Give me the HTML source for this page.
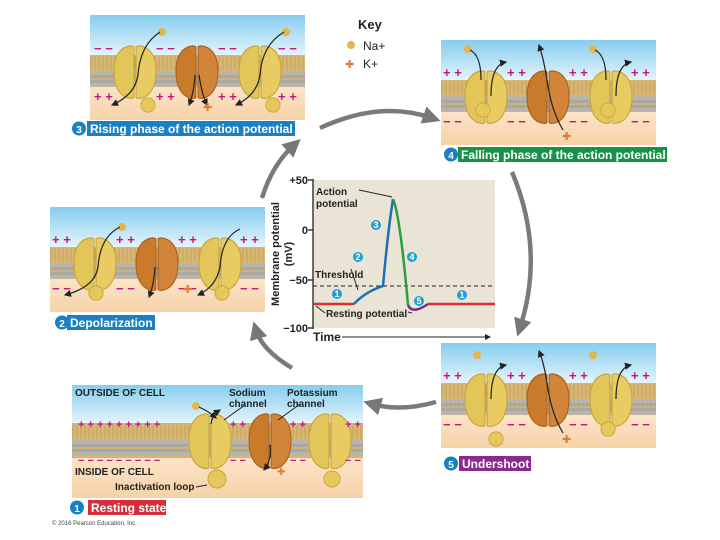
<!DOCTYPE html>
<html><head><meta charset="utf-8"><style>
html,body{margin:0;padding:0;background:#fff;}
svg{display:block;font-family:"Liberation Sans",Arial,sans-serif;}
</style></head><body>
<svg width="720" height="540" viewBox="0 0 720 540" xmlns="http://www.w3.org/2000/svg">
<defs>
<linearGradient id="sky" x1="0" y1="0" x2="0" y2="1"><stop offset="0" stop-color="#86cdef"/><stop offset="1" stop-color="#e4f4fb"/></linearGradient>
<linearGradient id="peach" x1="0" y1="0" x2="0" y2="1"><stop offset="0" stop-color="#fbe4c8"/><stop offset="1" stop-color="#f6d2a8"/></linearGradient>
<pattern id="lip" width="4" height="32" patternUnits="userSpaceOnUse">
<rect width="4" height="32" fill="#d6b774"/>
<circle cx="2" cy="2.5" r="2" fill="#a7a7a7"/><circle cx="2" cy="6" r="2" fill="#b5b5b5"/>
<circle cx="2" cy="26" r="2" fill="#b5b5b5"/><circle cx="2" cy="29.5" r="2" fill="#a7a7a7"/>
<line x1="1" y1="9" x2="1" y2="23" stroke="#b99650" stroke-width="0.7"/>
</pattern>
<g id="na">
<path d="M-20,0 C-20,-22 -2,-22 -1,-20 L-1,22 C-2,24 -20,24 -20,0Z" fill="#e3c65a" stroke="#c7a43a" stroke-width="1"/>
<path d="M20,0 C20,-22 2,-22 1,-20 L1,22 C2,24 20,24 20,0Z" fill="#e8cc62" stroke="#c7a43a" stroke-width="1"/>
</g>
<g id="k">
<path d="M-20,0 C-20,-22 -2,-22 -1,-20 L-1,22 C-2,24 -20,24 -20,0Z" fill="#c97a2a" stroke="#a85f1c" stroke-width="1"/>
<path d="M20,0 C20,-22 2,-22 1,-20 L1,22 C2,24 20,24 20,0Z" fill="#d1853a" stroke="#a85f1c" stroke-width="1"/>
</g>
<g id="panel">
<rect x="0" y="0" width="215" height="40" fill="url(#sky)"/>
<rect x="0" y="72" width="215" height="33" fill="url(#peach)"/>
<rect x="0" y="40" width="215" height="32" fill="url(#lip)"/>
<use href="#na" transform="translate(45,56) scale(1.05,1.2)"/><use href="#k" transform="translate(107,56) scale(1.05,1.2)"/><use href="#na" transform="translate(170,56) scale(1.05,1.2)"/>
</g>
<g id="ball"><circle r="9" fill="#e6c75c" stroke="#c7a43a"/></g>
<marker id="ah" markerWidth="6" markerHeight="6" refX="5" refY="3" orient="auto"><path d="M0,0L6,3L0,6Z" fill="#222"/></marker>
<marker id="gh" markerWidth="4" markerHeight="4" refX="2" refY="2" orient="auto"><path d="M0,0L4,2L0,4Z" fill="#777"/></marker>
</defs>

<g fill="none" stroke="#7a7a7a" stroke-width="4.5" marker-end="url(#gh)">
<path d="M320,128 Q380,100 432,118"/>
<path d="M512,172 Q545,250 520,328"/>
<path d="M436,402 Q400,412 372,404"/>
<path d="M292,368 Q262,350 256,330"/>
<path d="M262,198 Q272,165 294,145"/>
</g>

<g transform="translate(90,15)">
<use href="#panel"/>
<g fill="#c2187a" font-size="13" font-weight="bold"><text x="4" y="38">− −</text><text x="66" y="38">− −</text><text x="128" y="38">− −</text><text x="188" y="38">− −</text>
<text x="4" y="86">+ +</text><text x="66" y="86">+ +</text><text x="128" y="86">+ +</text><text x="188" y="86">+ +</text></g>
<use href="#ball" transform="translate(58,90) scale(0.8)"/><use href="#ball" transform="translate(183,90) scale(0.8)"/>
<circle cx="72" cy="17" r="4" fill="#e8b54a"/><circle cx="196" cy="17" r="4" fill="#e8b54a"/>
<g fill="none" stroke="#222" stroke-width="1.2" marker-end="url(#ah)"><path d="M70,17 Q50,30 48,60 Q45,80 22,90"/><path d="M194,17 Q172,30 170,60 Q167,80 146,90"/><path d="M105,60 Q104,78 99,90"/><path d="M109,60 Q112,80 117,90"/></g>
<text x="113" y="96" fill="#e07a3a" font-size="11">✚</text>
</g>
<rect x="87" y="121" width="208" height="15" fill="#1b7fc2"/>
<circle cx="79" cy="128.5" r="7" fill="#1b7fc2"/><text x="79" y="133" fill="#fff" font-size="10" font-weight="bold" text-anchor="middle">3</text>
<text x="90" y="133" fill="#fff" font-size="12" font-weight="bold">Rising phase of the action potential</text>

<text x="358" y="29" font-size="13" font-weight="bold" fill="#222">Key</text>
<circle cx="351" cy="45" r="4" fill="#e8b54a"/><text x="363" y="50" font-size="12" fill="#222">Na+</text>
<text x="345" y="68" fill="#e07a3a" font-size="11">✚</text><text x="363" y="68" font-size="12" fill="#222">K+</text>

<g transform="translate(441,40)">
<use href="#panel"/>
<g fill="#c2187a" font-size="13" font-weight="bold"><text x="2" y="37">+ +</text><text x="66" y="37">+ +</text><text x="128" y="37">+ +</text><text x="190" y="37">+ +</text>
<text x="2" y="86">− −</text><text x="66" y="86">− −</text><text x="128" y="86">− −</text><text x="190" y="86">− −</text></g>
<use href="#ball" transform="translate(42,70) scale(0.8)"/><use href="#ball" transform="translate(167,70) scale(0.8)"/>
<circle cx="27" cy="9" r="4" fill="#e8b54a"/><circle cx="152" cy="9" r="4" fill="#e8b54a"/>
<g fill="none" stroke="#222" stroke-width="1.2"><path d="M29,10 Q40,15 40,40"/><path d="M154,10 Q165,15 165,40"/></g>
<g fill="none" stroke="#222" stroke-width="1.2" marker-end="url(#ah)"><path d="M50,56 Q50,25 65,22"/><path d="M175,56 Q175,25 190,22"/><path d="M122,90 Q110,70 106,40 Q103,20 98,5"/></g>
<text x="121" y="100" fill="#e07a3a" font-size="11">✚</text>
</g>
<rect x="458" y="147" width="209" height="15" fill="#179146"/>
<circle cx="451" cy="154.5" r="7" fill="#1b7fc2"/><text x="451" y="159" fill="#fff" font-size="10" font-weight="bold" text-anchor="middle">4</text>
<text x="461" y="159" fill="#fff" font-size="12" font-weight="bold">Falling phase of the action potential</text>

<g transform="translate(50,207)">
<use href="#panel"/>
<g fill="#c2187a" font-size="13" font-weight="bold"><text x="2" y="37">+ +</text><text x="66" y="37">+ +</text><text x="128" y="37">+ +</text><text x="190" y="37">+ +</text>
<text x="2" y="86">− −</text><text x="66" y="86">− −</text><text x="128" y="86">− −</text><text x="190" y="86">− −</text></g>
<use href="#ball" transform="translate(46,86) scale(0.8)"/><use href="#ball" transform="translate(172,86) scale(0.8)"/>
<circle cx="72" cy="20" r="4" fill="#e8b54a"/>
<g fill="none" stroke="#222" stroke-width="1.2" marker-end="url(#ah)"><path d="M70,20 Q50,30 48,60 Q45,80 15,88"/><path d="M190,22 Q172,30 170,60 Q166,80 148,88"/><path d="M105,60 Q104,78 99,90"/></g>
<text x="133" y="86" fill="#e07a3a" font-size="11">✚</text>
</g>
<rect x="67" y="315" width="88" height="15" fill="#1b7fc2"/>
<circle cx="62" cy="322.5" r="7" fill="#1b7fc2"/><text x="62" y="327" fill="#fff" font-size="10" font-weight="bold" text-anchor="middle">2</text>
<text x="70" y="327" fill="#fff" font-size="12" font-weight="bold">Depolarization</text>

<rect x="313" y="180" width="182" height="148" fill="#e9e4d6"/>
<g stroke="#222" stroke-width="1.3"><line x1="313" y1="179" x2="313" y2="329"/><line x1="308" y1="180" x2="313" y2="180"/><line x1="308" y1="230" x2="313" y2="230"/><line x1="308" y1="280" x2="313" y2="280"/><line x1="308" y1="328" x2="313" y2="328"/></g>
<g font-size="11" font-weight="bold" fill="#222" text-anchor="end"><text x="308" y="184">+50</text><text x="308" y="234">0</text><text x="308" y="284">−50</text><text x="308" y="332">−100</text></g>
<text transform="translate(279,254) rotate(-90)" font-size="11" font-weight="bold" fill="#222" text-anchor="middle">Membrane potential</text>
<text transform="translate(292,254) rotate(-90)" font-size="11" font-weight="bold" fill="#222" text-anchor="middle">(mV)</text>
<line x1="313" y1="286" x2="495" y2="286" stroke="#222" stroke-dasharray="4,3"/>
<path d="M313,304 L354,304" stroke="#d8322f" stroke-width="2.5" fill="none"/>
<path d="M354,304 Q365,292 383,286 Q388,230 393,199" stroke="#1f6fb4" stroke-width="2.5" fill="none"/>
<path d="M393,199 Q400,215 408,305" stroke="#2e9a44" stroke-width="2.5" fill="none"/>
<path d="M408,305 Q412,315 428,304" stroke="#7a2a8a" stroke-width="2.5" fill="none"/>
<path d="M428,304 L495,304" stroke="#d8322f" stroke-width="2.5" fill="none"/>
<g font-size="10" font-weight="bold" fill="#222"><text x="316" y="195">Action</text><text x="316" y="207">potential</text><text x="315" y="278">Threshold</text><text x="326" y="317">Resting potential</text></g>
<g stroke="#222" fill="none"><path d="M359,190 L392,197"/><path d="M351,269 L358,290"/><path d="M316,306 L325,313"/><path d="M412,313 L408,312"/></g>
<g font-size="9" font-weight="bold" fill="#fff" text-anchor="middle">
<circle cx="337" cy="294" r="5" fill="#1ea0d4"/><text x="337" y="297">1</text>
<circle cx="358" cy="257" r="5" fill="#1ea0d4"/><text x="358" y="260">2</text>
<circle cx="376" cy="225" r="5" fill="#1ea0d4"/><text x="376" y="228">3</text>
<circle cx="412" cy="257" r="5" fill="#1ea0d4"/><text x="412" y="260">4</text>
<circle cx="419" cy="301" r="5" fill="#1ea0d4"/><text x="419" y="304">5</text>
<circle cx="462" cy="295" r="5" fill="#1ea0d4"/><text x="462" y="298">1</text>
</g>
<text x="313" y="341" font-size="12" font-weight="bold" fill="#222">Time</text>
<line x1="342" y1="337" x2="490" y2="337" stroke="#222" marker-end="url(#ah)"/>

<g transform="translate(441,343)">
<use href="#panel"/>
<g fill="#c2187a" font-size="13" font-weight="bold"><text x="2" y="37">+ +</text><text x="66" y="37">+ +</text><text x="128" y="37">+ +</text><text x="190" y="37">+ +</text>
<text x="2" y="86">− −</text><text x="66" y="86">− −</text><text x="128" y="86">− −</text><text x="190" y="86">− −</text></g>
<use href="#ball" transform="translate(55,96) scale(0.8)"/><use href="#ball" transform="translate(167,86) scale(0.8)"/>
<circle cx="36" cy="12" r="4" fill="#e8b54a"/><circle cx="152" cy="12" r="4" fill="#e8b54a"/>
<g fill="none" stroke="#222" stroke-width="1.2" marker-end="url(#ah)"><path d="M122,90 Q110,70 106,40 Q103,20 98,8"/><path d="M50,56 Q50,25 65,22"/><path d="M175,56 Q175,25 190,22"/></g>
<text x="121" y="100" fill="#e07a3a" font-size="11">✚</text>
</g>
<rect x="459" y="456" width="72" height="15" fill="#8a2a8e"/>
<circle cx="451" cy="463.5" r="7" fill="#1b7fc2"/><text x="451" y="468" fill="#fff" font-size="10" font-weight="bold" text-anchor="middle">5</text>
<text x="462" y="468" fill="#fff" font-size="12" font-weight="bold">Undershoot</text>

<g>
<rect x="72" y="385" width="291" height="38" fill="url(#sky)"/>
<rect x="72" y="458" width="291" height="40" fill="url(#peach)"/>
<rect x="72" y="423" width="291" height="35" fill="url(#lip)"/>
<use href="#na" transform="translate(210,440) scale(1.05,1.25)"/><use href="#k" transform="translate(270,440) scale(1.05,1.25)"/><use href="#na" transform="translate(330,440) scale(1.05,1.25)"/>
<g fill="#c2187a" font-size="11" font-weight="bold"><text x="78" y="428">+ + + + + + + + +</text><text x="230" y="428">+ +</text><text x="290" y="428">+ +</text><text x="345" y="428">+ +</text>
<text x="78" y="464">− − − − − − − − −</text><text x="230" y="464">− −</text><text x="290" y="464">− −</text><text x="345" y="464">− −</text></g>
<use href="#ball" transform="translate(217,479)"/><use href="#ball" transform="translate(332,479) scale(0.9)"/>
<circle cx="196" cy="406" r="4" fill="#e8b54a"/>
<g fill="none" stroke="#222" stroke-width="1.2" marker-end="url(#ah)"><path d="M199,407 Q210,412 216,418"/><path d="M211,424 Q212,415 220,410"/><path d="M270,445 Q272,460 264,470"/></g>
<g fill="none" stroke="#222" stroke-width="1"><path d="M224,420 L245,405"/><path d="M278,420 L300,404"/><path d="M196,487 L207,485"/></g>
<text x="277" y="475" fill="#e07a3a" font-size="10">✚</text>
<g font-size="10" font-weight="bold" fill="#222"><text x="75" y="396">OUTSIDE OF CELL</text><text x="229" y="396">Sodium</text><text x="229" y="407">channel</text><text x="287" y="396">Potassium</text><text x="287" y="407">channel</text><text x="75" y="475">INSIDE OF CELL</text><text x="115" y="490">Inactivation loop</text></g>
</g>
<rect x="88" y="500" width="78" height="15" fill="#d62e3a"/>
<circle cx="77" cy="507.5" r="7" fill="#1b7fc2"/><text x="77" y="512" fill="#fff" font-size="10" font-weight="bold" text-anchor="middle">1</text>
<text x="91" y="512" fill="#fff" font-size="12" font-weight="bold">Resting state</text>
<text x="52" y="525" font-size="6" fill="#444">© 2016 Pearson Education, Inc.</text>
</svg>
</body></html>
